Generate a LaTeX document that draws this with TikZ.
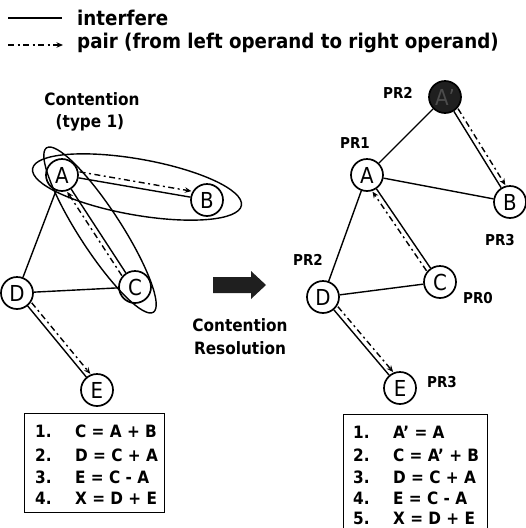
\documentclass[tikz,border=0pt]{standalone}
\usepackage{fontspec}
\setmainfont{DejaVu Sans Condensed}
\usetikzlibrary{arrows.meta,shapes.geometric,calc}
\begin{document}
\begin{tikzpicture}[x=1pt,y=-1pt,
  vtx/.style={circle,draw,line width=1.7pt,minimum size=32pt,inner sep=0pt,font=\fontsize{22}{22}\selectfont},
  intf/.style={line width=1.4pt},
  pairarrow/.style={line width=1.4pt, dash pattern=on 6pt off 3.5pt on 2pt off 3.5pt, -{Stealth[length=6.5pt,width=5.5pt]}},
  lbl/.style={font=\bfseries\fontsize{17}{17}\selectfont, inner sep=0pt},
  prl/.style={font=\bfseries\fontsize{15}{15}\selectfont, inner sep=0pt},
  legtxt/.style={font=\bfseries\fontsize{20.3}{20}\selectfont, inner sep=0pt, anchor=west},
  ell/.style={ellipse, draw, line width=1.4pt, inner sep=0pt},
  boxst/.style={draw, line width=1.4pt, inner sep=0pt, anchor=north west},
  eqtxt/.style={font=\bfseries\fontsize{17}{17}\selectfont, inner sep=0pt, anchor=west}
]
\clip (0,0) rectangle (526,528);
\useasboundingbox (0,0) rectangle (526,528);

% legend
\coordinate (lg1a) at (8,18); \coordinate (lg1b) at (62,18);
\draw[intf] (lg1a) -- (lg1b);
\node[legtxt] (lgt1) at (77,18) {interfere};
\coordinate (lg2a) at (8,45); \coordinate (lg2b) at (63,45);
\draw[pairarrow] (lg2a) -- (lg2b);
\node[legtxt] (lgt2) at (77,43) {pair (from left operand to right operand)};

% left graph
\node[lbl] (ct1) at (92,99) {Contention};
\node[lbl] (ct2) at (90,123) {(type 1)};
\node[vtx] (lA) at (62,175) {A};
\node[vtx] (lB) at (207,200) {B};
\node[vtx] (lC) at (135,287) {C};
\node[vtx] (lD) at (17,293) {D};
\node[vtx] (lE) at (97,390) {E};
\node[ell, minimum width=212pt, minimum height=56pt, rotate=-10] (e1) at (137,187) {};
\node[ell, minimum width=196pt, minimum height=42pt, rotate=-57] (e2) at (100,230) {};
\draw[intf] (lA) -- (lB);
\draw[intf] (lA) -- (lC);
\draw[intf] (lA) -- (lD);
\draw[intf] (lD) -- (lC);
\draw[intf] (lD) -- (lE);
\draw[pairarrow, transform canvas={xshift=1pt,yshift=6pt}] (lA) -- (lB);
\draw[pairarrow, transform canvas={xshift=-4pt,yshift=-2.7pt}] (lC) -- (lA);
\draw[pairarrow, transform canvas={xshift=4pt,yshift=3.2pt}] (lD) -- (lE);

% big arrow
\fill[black!88] (213,277) -- (251,277) -- (251,271) -- (266,285) -- (251,299) -- (251,293) -- (213,293) -- cycle;
\node[lbl] (cr1) at (240,325) {Contention};
\node[lbl] (cr2) at (240,348) {Resolution};

% right graph
\node[vtx, fill=black!88, text=black!70] (rAp) at (445,97) {A’};
\node[vtx] (rA) at (367,175) {A};
\node[vtx] (rB) at (510,202) {B};
\node[vtx] (rC) at (440,282) {C};
\node[vtx] (rD) at (323,297) {D};
\node[vtx] (rE) at (400,388) {E};
\draw[intf] (rAp) -- (rA);
\draw[intf] (rAp) -- (rB);
\draw[intf] (rA) -- (rB);
\draw[intf] (rA) -- (rD);
\draw[intf] (rA) -- (rC);
\draw[intf] (rD) -- (rC);
\draw[intf] (rD) -- (rE);
\draw[pairarrow, transform canvas={xshift=4.2pt,yshift=2.6pt}] (rAp) -- (rB);
\draw[pairarrow, transform canvas={xshift=-4pt,yshift=-2.7pt}] (rC) -- (rA);
\draw[pairarrow, transform canvas={xshift=4pt,yshift=3.2pt}] (rD) -- (rE);
\node[prl] (p1) at (398,93) {PR2};
\node[prl] (p2) at (355,143) {PR1};
\node[prl] (p3) at (500,240) {PR3};
\node[prl] (p4) at (308,260) {PR2};
\node[prl] (p5) at (478,298) {PR0};
\node[prl] (p6) at (442,382) {PR3};

% boxes
\node[boxst, minimum width=140pt, minimum height=99pt] (box1) at (24,413) {};
\foreach \i/\n/\e/\y in {1/1./{C = A + B}/431, 2/2./{D = C + A}/455, 3/3./{E = C - A}/477, 4/4./{X = D + E}/498}{
  \node[eqtxt] (ln\i) at (35,\y) {\n};
  \node[eqtxt] (le\i) at (75,\y) {\e};
}
\node[boxst, minimum width=144pt, minimum height=130pt] (box2) at (343,414) {};
\foreach \i/\n/\e/\y in {1/1./{A’ = A}/432, 2/2./{C = A’ + B}/455, 3/3./{D = C + A}/477, 4/4./{E = C - A}/498, 5/5./{X = D + E}/518}{
  \node[eqtxt] (rn\i) at (353,\y) {\n};
  \node[eqtxt] (re\i) at (393,\y) {\e};
}
\end{tikzpicture}
\end{document}
